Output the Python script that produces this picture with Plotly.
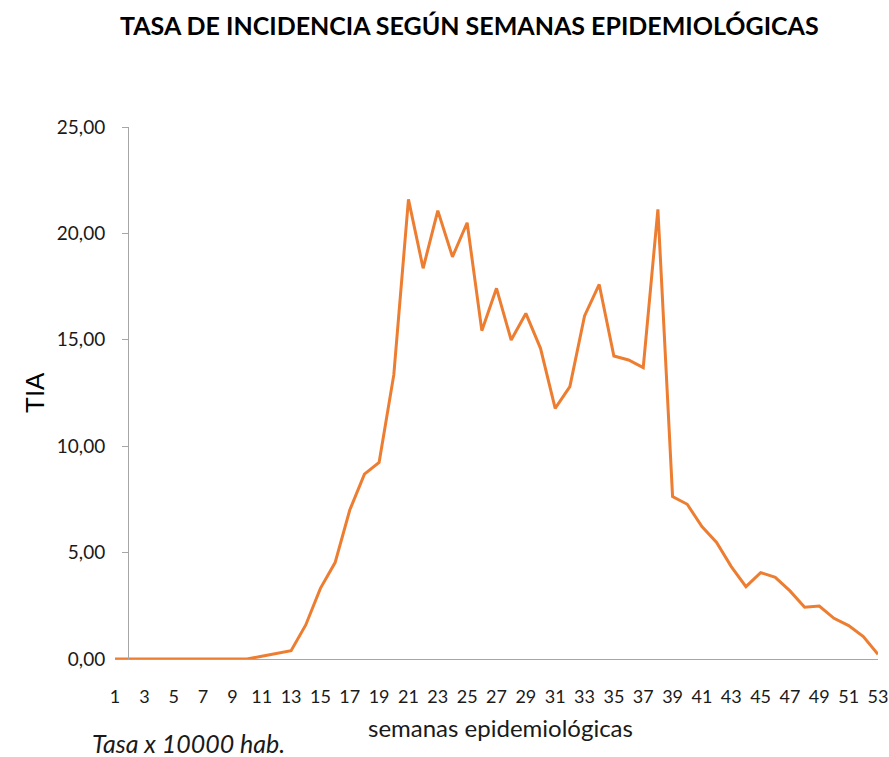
import plotly.graph_objects as go

weeks = list(range(1, 54))
tia = [0, 0, 0, 0, 0, 0, 0, 0, 0, 0,
       0.13, 0.26, 0.39, 1.6, 3.32, 4.53, 7.0, 8.69, 9.24, 13.35,
       21.6, 18.36, 21.07, 18.9, 20.5, 15.43, 17.42, 14.99, 16.24, 14.6,
       11.78, 12.8, 16.12, 17.6, 14.24, 14.05, 13.69, 21.13, 7.63, 7.27,
       6.22, 5.48, 4.34, 3.4, 4.06, 3.84, 3.2, 2.43, 2.49, 1.91,
       1.57, 1.05, 0.22]
x_ticks = list(range(1, 54, 2))
y_ticks = [0, 5, 10, 15, 20, 25]
y_labels = ["0,00", "5,00", "10,00", "15,00", "20,00", "25,00"]

FONT = "Lato, Open Sans, sans-serif"
GRAY = "#A6A6A6"

fig = go.Figure()
fig.add_trace(go.Scatter(x=weeks, y=tia, mode="lines",
                         line=dict(color="#ED7D31", width=3),
                         cliponaxis=False, showlegend=False))

fig.update_layout(
    width=889, height=757,
    margin=dict(l=115, r=11, t=127, b=98),
    paper_bgcolor="white", plot_bgcolor="white",
    font=dict(family=FONT, color="#000000"),
    xaxis=dict(range=[1, 53], tickvals=x_ticks, ticktext=[str(v) for v in x_ticks],
               showgrid=False, zeroline=False, showline=True, linecolor=GRAY, linewidth=1,
               ticks="", tickfont=dict(size=18, family=FONT, color="#1a1a1a"),
               ticklabelstandoff=21, automargin=False),
    yaxis=dict(range=[0, 25], tickvals=y_ticks, ticktext=y_labels,
               showgrid=False, zeroline=False, showline=True, linecolor=GRAY, linewidth=1,
               anchor="free", position=13/763, automargin=False,
               ticks="outside", ticklen=6, tickcolor=GRAY,
               tickfont=dict(size=19, family=FONT, color="#1a1a1a"), ticklabelstandoff=13),
    annotations=[
        dict(text="<b>TASA DE INCIDENCIA SEGÚN SEMANAS EPIDEMIOLÓGICAS</b>",
             xref="paper", yref="paper", x=(469-115)/763, y=1 + (127-25)/532,
             xanchor="center", yanchor="middle", showarrow=False,
             font=dict(size=25, family=FONT)),
        dict(text="TIA", xref="paper", yref="paper", x=-(115-35)/763, y=(659-393)/532,
             xanchor="center", yanchor="middle", textangle=-90, showarrow=False,
             font=dict(size=26, family="Liberation Sans, Arial, sans-serif")),
        dict(text="semanas epidemiológicas", xref="paper", yref="paper",
             x=(500-115)/763, y=-(727-659)/532, xanchor="center", yanchor="middle",
             showarrow=False, font=dict(size=24, family=FONT, color="#1a1a1a")),
        dict(text="<i>Tasa x 10000 hab.</i>", xref="paper", yref="paper",
             x=(188-115)/763, y=-(743-659)/532, xanchor="center", yanchor="middle",
             showarrow=False, font=dict(size=25, family=FONT, color="#1a1a1a")),
    ],
)

fig.write_html("out.html", config={"displayModeBar": False},
               post_script="document.body.style.margin='0';")
